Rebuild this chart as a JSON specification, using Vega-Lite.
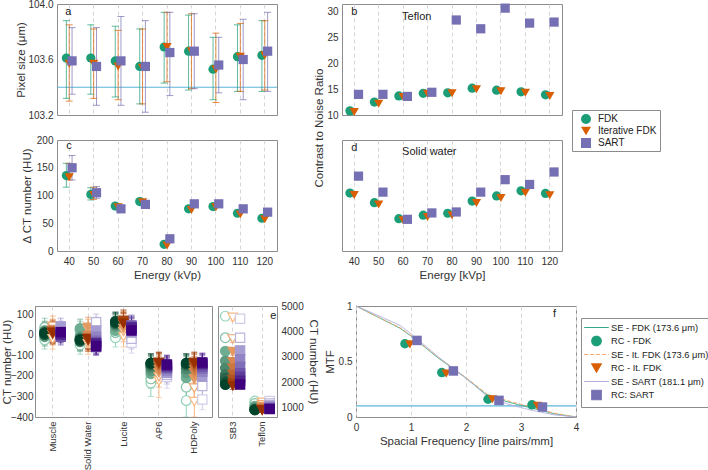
{
"$schema":"https://vega.github.io/schema/vega-lite/v6.json",
"background":"white",
"padding":{"left":0,"top":-2,"right":0,"bottom":0},
"autosize":{"type":"pad"},
"config":{
 "font":"Liberation Sans",
 "view":{"stroke":"#8c8c8c","strokeWidth":1},
 "axis":{"domain":false,"ticks":false,"grid":false,"labelFontSize":10,"labelColor":"#333333","titleFontSize":11.5,"titleFontWeight":"normal","titleColor":"#333333","labelPadding":4,"gridColor":"#d6d6d6","gridDash":[4,3],"labelOverlap":false},
 "text":{"font":"Liberation Sans","color":"#222222","fontSize":11},
 "legend":{"labelFont":"Liberation Sans","labelColor":"#222222"}
},
"datasets":{
 "pix":[
  {"energy":40,"method":"FDK","v":103.61,"lo":103.32,"hi":103.88},
  {"energy":40,"method":"Iterative FDK","v":103.57,"lo":103.30,"hi":103.85},
  {"energy":40,"method":"SART","v":103.59,"lo":103.35,"hi":103.83},
  {"energy":50,"method":"FDK","v":103.61,"lo":103.35,"hi":103.85},
  {"energy":50,"method":"Iterative FDK","v":103.57,"lo":103.32,"hi":103.82},
  {"energy":50,"method":"SART","v":103.55,"lo":103.27,"hi":103.83},
  {"energy":60,"method":"FDK","v":103.59,"lo":103.33,"hi":103.84},
  {"energy":60,"method":"Iterative FDK","v":103.55,"lo":103.31,"hi":103.81},
  {"energy":60,"method":"SART","v":103.59,"lo":103.27,"hi":103.91},
  {"energy":70,"method":"FDK","v":103.55,"lo":103.28,"hi":103.82},
  {"energy":70,"method":"Iterative FDK","v":103.54,"lo":103.28,"hi":103.82},
  {"energy":70,"method":"SART","v":103.55,"lo":103.22,"hi":103.88},
  {"energy":80,"method":"FDK","v":103.69,"lo":103.43,"hi":103.94},
  {"energy":80,"method":"Iterative FDK","v":103.69,"lo":103.44,"hi":103.94},
  {"energy":80,"method":"SART","v":103.65,"lo":103.34,"hi":103.94},
  {"energy":90,"method":"FDK","v":103.66,"lo":103.38,"hi":103.92},
  {"energy":90,"method":"Iterative FDK","v":103.66,"lo":103.39,"hi":103.93},
  {"energy":90,"method":"SART","v":103.66,"lo":103.39,"hi":103.93},
  {"energy":100,"method":"FDK","v":103.53,"lo":103.31,"hi":103.76},
  {"energy":100,"method":"Iterative FDK","v":103.53,"lo":103.29,"hi":103.79},
  {"energy":100,"method":"SART","v":103.56,"lo":103.36,"hi":103.76},
  {"energy":110,"method":"FDK","v":103.62,"lo":103.37,"hi":103.85},
  {"energy":110,"method":"Iterative FDK","v":103.62,"lo":103.37,"hi":103.86},
  {"energy":110,"method":"SART","v":103.60,"lo":103.31,"hi":103.89},
  {"energy":120,"method":"FDK","v":103.63,"lo":103.37,"hi":103.88},
  {"energy":120,"method":"Iterative FDK","v":103.63,"lo":103.38,"hi":103.88},
  {"energy":120,"method":"SART","v":103.66,"lo":103.37,"hi":103.94}
 ],
 "dct":[
  {"energy":40,"method":"FDK","v":136,"lo":115,"hi":158},
  {"energy":40,"method":"Iterative FDK","v":133,"lo":128,"hi":158},
  {"energy":40,"method":"SART","v":150,"lo":128,"hi":172},
  {"energy":50,"method":"FDK","v":102,"lo":92,"hi":114},
  {"energy":50,"method":"Iterative FDK","v":101,"lo":93,"hi":115},
  {"energy":50,"method":"SART","v":105,"lo":95,"hi":116},
  {"energy":60,"method":"FDK","v":81},
  {"energy":60,"method":"Iterative FDK","v":79},
  {"energy":60,"method":"SART","v":76},
  {"energy":70,"method":"FDK","v":89},
  {"energy":70,"method":"Iterative FDK","v":88},
  {"energy":70,"method":"SART","v":84},
  {"energy":80,"method":"FDK","v":12},
  {"energy":80,"method":"Iterative FDK","v":10},
  {"energy":80,"method":"SART","v":22},
  {"energy":90,"method":"FDK","v":76},
  {"energy":90,"method":"Iterative FDK","v":74},
  {"energy":90,"method":"SART","v":85},
  {"energy":100,"method":"FDK","v":80},
  {"energy":100,"method":"Iterative FDK","v":79},
  {"energy":100,"method":"SART","v":85},
  {"energy":110,"method":"FDK","v":68},
  {"energy":110,"method":"Iterative FDK","v":66},
  {"energy":110,"method":"SART","v":76},
  {"energy":120,"method":"FDK","v":59},
  {"energy":120,"method":"Iterative FDK","v":57},
  {"energy":120,"method":"SART","v":70}
 ],
 "cnrT":[
  {"energy":40,"method":"FDK","v":10.8},{"energy":40,"method":"Iterative FDK","v":10.6},{"energy":40,"method":"SART","v":14.0},
  {"energy":50,"method":"FDK","v":12.5},{"energy":50,"method":"Iterative FDK","v":12.2},{"energy":50,"method":"SART","v":14.0},
  {"energy":60,"method":"FDK","v":13.7},{"energy":60,"method":"Iterative FDK","v":13.5},{"energy":60,"method":"SART","v":13.6},
  {"energy":70,"method":"FDK","v":14.2},{"energy":70,"method":"Iterative FDK","v":14.1},{"energy":70,"method":"SART","v":14.4},
  {"energy":80,"method":"FDK","v":14.3},{"energy":80,"method":"Iterative FDK","v":14.2},{"energy":80,"method":"SART","v":28.4},
  {"energy":90,"method":"FDK","v":15.2},{"energy":90,"method":"Iterative FDK","v":15.0},{"energy":90,"method":"SART","v":26.7},
  {"energy":100,"method":"FDK","v":14.8},{"energy":100,"method":"Iterative FDK","v":14.6},{"energy":100,"method":"SART","v":30.7},
  {"energy":110,"method":"FDK","v":14.5},{"energy":110,"method":"Iterative FDK","v":14.3},{"energy":110,"method":"SART","v":27.8},
  {"energy":120,"method":"FDK","v":13.9},{"energy":120,"method":"Iterative FDK","v":13.7},{"energy":120,"method":"SART","v":28.0}
 ],
 "cnrW":[
  {"energy":40,"method":"FDK","v":1.81},{"energy":40,"method":"Iterative FDK","v":1.75},{"energy":40,"method":"SART","v":2.34},
  {"energy":50,"method":"FDK","v":1.51},{"energy":50,"method":"Iterative FDK","v":1.45},{"energy":50,"method":"SART","v":1.84},
  {"energy":60,"method":"FDK","v":1.01},{"energy":60,"method":"Iterative FDK","v":0.96},{"energy":60,"method":"SART","v":0.99},
  {"energy":70,"method":"FDK","v":1.12},{"energy":70,"method":"Iterative FDK","v":1.06},{"energy":70,"method":"SART","v":1.19},
  {"energy":80,"method":"FDK","v":1.18},{"energy":80,"method":"Iterative FDK","v":1.12},{"energy":80,"method":"SART","v":1.22},
  {"energy":90,"method":"FDK","v":1.56},{"energy":90,"method":"Iterative FDK","v":1.50},{"energy":90,"method":"SART","v":1.84},
  {"energy":100,"method":"FDK","v":1.72},{"energy":100,"method":"Iterative FDK","v":1.66},{"energy":100,"method":"SART","v":2.23},
  {"energy":110,"method":"FDK","v":1.88},{"energy":110,"method":"Iterative FDK","v":1.82},{"energy":110,"method":"SART","v":2.08},
  {"energy":120,"method":"FDK","v":1.80},{"energy":120,"method":"Iterative FDK","v":1.74},{"energy":120,"method":"SART","v":2.47}
 ],
 "mtfL":[
  {"entry":"SE - FDK (173.6 μm)","f":0,"mtf":1},{"entry":"SE - FDK (173.6 μm)","f":0.4,"mtf":0.9},{"entry":"SE - FDK (173.6 μm)","f":0.8,"mtf":0.8},{"entry":"SE - FDK (173.6 μm)","f":1.0,"mtf":0.73},{"entry":"SE - FDK (173.6 μm)","f":1.5,"mtf":0.53},{"entry":"SE - FDK (173.6 μm)","f":2.0,"mtf":0.35},{"entry":"SE - FDK (173.6 μm)","f":2.4,"mtf":0.19},{"entry":"SE - FDK (173.6 μm)","f":2.8,"mtf":0.13},{"entry":"SE - FDK (173.6 μm)","f":3.2,"mtf":0.08},{"entry":"SE - FDK (173.6 μm)","f":3.6,"mtf":0.03},{"entry":"SE - FDK (173.6 μm)","f":4.0,"mtf":0},
  {"entry":"SE - It. FDK (173.6 μm)","f":0,"mtf":1},{"entry":"SE - It. FDK (173.6 μm)","f":0.4,"mtf":0.9},{"entry":"SE - It. FDK (173.6 μm)","f":0.8,"mtf":0.805},{"entry":"SE - It. FDK (173.6 μm)","f":1.0,"mtf":0.735},{"entry":"SE - It. FDK (173.6 μm)","f":1.5,"mtf":0.535},{"entry":"SE - It. FDK (173.6 μm)","f":2.0,"mtf":0.355},{"entry":"SE - It. FDK (173.6 μm)","f":2.4,"mtf":0.2},{"entry":"SE - It. FDK (173.6 μm)","f":2.8,"mtf":0.14},{"entry":"SE - It. FDK (173.6 μm)","f":3.2,"mtf":0.09},{"entry":"SE - It. FDK (173.6 μm)","f":3.6,"mtf":0.035},{"entry":"SE - It. FDK (173.6 μm)","f":4.0,"mtf":0},
  {"entry":"SE - SART (181.1 μm)","f":0,"mtf":1},{"entry":"SE - SART (181.1 μm)","f":0.4,"mtf":0.915},{"entry":"SE - SART (181.1 μm)","f":0.8,"mtf":0.825},{"entry":"SE - SART (181.1 μm)","f":1.0,"mtf":0.75},{"entry":"SE - SART (181.1 μm)","f":1.5,"mtf":0.54},{"entry":"SE - SART (181.1 μm)","f":2.0,"mtf":0.35},{"entry":"SE - SART (181.1 μm)","f":2.4,"mtf":0.18},{"entry":"SE - SART (181.1 μm)","f":2.8,"mtf":0.11},{"entry":"SE - SART (181.1 μm)","f":3.2,"mtf":0.06},{"entry":"SE - SART (181.1 μm)","f":3.6,"mtf":0.02},{"entry":"SE - SART (181.1 μm)","f":4.0,"mtf":0}
 ],
 "mtfP":[
  {"entry":"RC - FDK","f":0.89,"mtf":0.66},{"entry":"RC - FDK","f":1.56,"mtf":0.40},{"entry":"RC - FDK","f":2.40,"mtf":0.16},{"entry":"RC - FDK","f":3.20,"mtf":0.11},
  {"entry":"RC - It. FDK","f":0.98,"mtf":0.655},{"entry":"RC - It. FDK","f":1.64,"mtf":0.39},{"entry":"RC - It. FDK","f":2.48,"mtf":0.16},{"entry":"RC - It. FDK","f":3.30,"mtf":0.10},
  {"entry":"RC: SART","f":1.11,"mtf":0.69},{"entry":"RC: SART","f":1.77,"mtf":0.415},{"entry":"RC: SART","f":2.60,"mtf":0.15},{"entry":"RC: SART","f":3.39,"mtf":0.09}
 ],
 "eL":[
  {"m":"Muscle","s":"FDK","e":40,"v":-25,"lo":-70,"hi":20},{"m":"Muscle","s":"FDK","e":50,"v":35,"lo":-10,"hi":80},{"m":"Muscle","s":"FDK","e":60,"v":20,"lo":-25,"hi":65},{"m":"Muscle","s":"FDK","e":70,"v":-10,"lo":-55,"hi":35},{"m":"Muscle","s":"FDK","e":80,"v":15,"lo":-30,"hi":60},{"m":"Muscle","s":"FDK","e":90,"v":5,"lo":-40,"hi":50},{"m":"Muscle","s":"FDK","e":100,"v":10,"lo":-35,"hi":55},{"m":"Muscle","s":"FDK","e":110,"v":0,"lo":-45,"hi":45},{"m":"Muscle","s":"FDK","e":120,"v":8,"lo":-37,"hi":53},
  {"m":"Muscle","s":"Iterative FDK","e":40,"v":-20,"lo":-70,"hi":30},{"m":"Muscle","s":"Iterative FDK","e":50,"v":40,"lo":-10,"hi":90},{"m":"Muscle","s":"Iterative FDK","e":60,"v":25,"lo":-25,"hi":75},{"m":"Muscle","s":"Iterative FDK","e":70,"v":0,"lo":-50,"hi":50},{"m":"Muscle","s":"Iterative FDK","e":80,"v":20,"lo":-30,"hi":70},{"m":"Muscle","s":"Iterative FDK","e":90,"v":10,"lo":-40,"hi":60},{"m":"Muscle","s":"Iterative FDK","e":100,"v":15,"lo":-35,"hi":65},{"m":"Muscle","s":"Iterative FDK","e":110,"v":5,"lo":-45,"hi":55},{"m":"Muscle","s":"Iterative FDK","e":120,"v":10,"lo":-40,"hi":60},
  {"m":"Muscle","s":"SART","e":40,"v":30,"lo":-10,"hi":70},{"m":"Muscle","s":"SART","e":50,"v":20,"lo":-20,"hi":60},{"m":"Muscle","s":"SART","e":60,"v":40,"lo":0,"hi":80},{"m":"Muscle","s":"SART","e":70,"v":15,"lo":-25,"hi":55},{"m":"Muscle","s":"SART","e":80,"v":10,"lo":-30,"hi":50},{"m":"Muscle","s":"SART","e":90,"v":-10,"lo":-50,"hi":30},{"m":"Muscle","s":"SART","e":100,"v":5,"lo":-35,"hi":45},{"m":"Muscle","s":"SART","e":110,"v":0,"lo":-40,"hi":40},{"m":"Muscle","s":"SART","e":120,"v":12,"lo":-28,"hi":52},
  {"m":"Solid Water","s":"FDK","e":40,"v":-50,"lo":-95,"hi":-5},{"m":"Solid Water","s":"FDK","e":50,"v":20,"lo":-25,"hi":65},{"m":"Solid Water","s":"FDK","e":60,"v":30,"lo":-15,"hi":75},{"m":"Solid Water","s":"FDK","e":70,"v":-10,"lo":-55,"hi":35},{"m":"Solid Water","s":"FDK","e":80,"v":-35,"lo":-80,"hi":10},{"m":"Solid Water","s":"FDK","e":90,"v":-20,"lo":-65,"hi":25},{"m":"Solid Water","s":"FDK","e":100,"v":-30,"lo":-75,"hi":15},{"m":"Solid Water","s":"FDK","e":110,"v":-25,"lo":-70,"hi":20},{"m":"Solid Water","s":"FDK","e":120,"v":-25,"lo":-70,"hi":20},
  {"m":"Solid Water","s":"Iterative FDK","e":40,"v":-45,"lo":-95,"hi":5},{"m":"Solid Water","s":"Iterative FDK","e":50,"v":25,"lo":-25,"hi":75},{"m":"Solid Water","s":"Iterative FDK","e":60,"v":35,"lo":-15,"hi":85},{"m":"Solid Water","s":"Iterative FDK","e":70,"v":-5,"lo":-55,"hi":45},{"m":"Solid Water","s":"Iterative FDK","e":80,"v":-30,"lo":-80,"hi":20},{"m":"Solid Water","s":"Iterative FDK","e":90,"v":-15,"lo":-65,"hi":35},{"m":"Solid Water","s":"Iterative FDK","e":100,"v":-30,"lo":-80,"hi":20},{"m":"Solid Water","s":"Iterative FDK","e":110,"v":-20,"lo":-70,"hi":30},{"m":"Solid Water","s":"Iterative FDK","e":120,"v":-20,"lo":-70,"hi":30},
  {"m":"Solid Water","s":"SART","e":40,"v":45,"lo":5,"hi":85},{"m":"Solid Water","s":"SART","e":50,"v":60,"lo":20,"hi":100},{"m":"Solid Water","s":"SART","e":60,"v":20,"lo":-20,"hi":60},{"m":"Solid Water","s":"SART","e":70,"v":-10,"lo":-50,"hi":30},{"m":"Solid Water","s":"SART","e":80,"v":-30,"lo":-70,"hi":10},{"m":"Solid Water","s":"SART","e":90,"v":-50,"lo":-90,"hi":-10},{"m":"Solid Water","s":"SART","e":100,"v":-60,"lo":-100,"hi":-20},{"m":"Solid Water","s":"SART","e":110,"v":-40,"lo":-80,"hi":0},{"m":"Solid Water","s":"SART","e":120,"v":-55,"lo":-95,"hi":-15},
  {"m":"Lucite","s":"FDK","e":40,"v":-15,"lo":-60,"hi":30},{"m":"Lucite","s":"FDK","e":50,"v":10,"lo":-35,"hi":55},{"m":"Lucite","s":"FDK","e":60,"v":20,"lo":-25,"hi":65},{"m":"Lucite","s":"FDK","e":70,"v":40,"lo":-5,"hi":85},{"m":"Lucite","s":"FDK","e":80,"v":60,"lo":15,"hi":105},{"m":"Lucite","s":"FDK","e":90,"v":50,"lo":5,"hi":95},{"m":"Lucite","s":"FDK","e":100,"v":55,"lo":10,"hi":100},{"m":"Lucite","s":"FDK","e":110,"v":65,"lo":20,"hi":110},{"m":"Lucite","s":"FDK","e":120,"v":60,"lo":15,"hi":105},
  {"m":"Lucite","s":"Iterative FDK","e":40,"v":-10,"lo":-60,"hi":40},{"m":"Lucite","s":"Iterative FDK","e":50,"v":15,"lo":-35,"hi":65},{"m":"Lucite","s":"Iterative FDK","e":60,"v":30,"lo":-20,"hi":80},{"m":"Lucite","s":"Iterative FDK","e":70,"v":50,"lo":0,"hi":100},{"m":"Lucite","s":"Iterative FDK","e":80,"v":65,"lo":15,"hi":115},{"m":"Lucite","s":"Iterative FDK","e":90,"v":55,"lo":5,"hi":105},{"m":"Lucite","s":"Iterative FDK","e":100,"v":60,"lo":10,"hi":110},{"m":"Lucite","s":"Iterative FDK","e":110,"v":70,"lo":20,"hi":120},{"m":"Lucite","s":"Iterative FDK","e":120,"v":55,"lo":5,"hi":105},
  {"m":"Lucite","s":"SART","e":40,"v":-40,"lo":-90,"hi":10},{"m":"Lucite","s":"SART","e":50,"v":-20,"lo":-70,"hi":30},{"m":"Lucite","s":"SART","e":60,"v":10,"lo":-40,"hi":60},{"m":"Lucite","s":"SART","e":70,"v":30,"lo":-20,"hi":80},{"m":"Lucite","s":"SART","e":80,"v":45,"lo":-5,"hi":95},{"m":"Lucite","s":"SART","e":90,"v":40,"lo":-10,"hi":90},{"m":"Lucite","s":"SART","e":100,"v":30,"lo":-20,"hi":80},{"m":"Lucite","s":"SART","e":110,"v":35,"lo":-15,"hi":85},{"m":"Lucite","s":"SART","e":120,"v":20,"lo":-30,"hi":70},
  {"m":"AP6","s":"FDK","e":40,"v":-235,"lo":-300,"hi":-170},{"m":"AP6","s":"FDK","e":50,"v":-215,"lo":-260,"hi":-170},{"m":"AP6","s":"FDK","e":60,"v":-190,"lo":-235,"hi":-145},{"m":"AP6","s":"FDK","e":70,"v":-175,"lo":-220,"hi":-130},{"m":"AP6","s":"FDK","e":80,"v":-160,"lo":-205,"hi":-115},{"m":"AP6","s":"FDK","e":90,"v":-150,"lo":-195,"hi":-105},{"m":"AP6","s":"FDK","e":100,"v":-145,"lo":-190,"hi":-100},{"m":"AP6","s":"FDK","e":110,"v":-140,"lo":-185,"hi":-95},{"m":"AP6","s":"FDK","e":120,"v":-138,"lo":-183,"hi":-93},
  {"m":"AP6","s":"Iterative FDK","e":40,"v":-225,"lo":-305,"hi":-145},{"m":"AP6","s":"Iterative FDK","e":50,"v":-205,"lo":-255,"hi":-155},{"m":"AP6","s":"Iterative FDK","e":60,"v":-185,"lo":-235,"hi":-135},{"m":"AP6","s":"Iterative FDK","e":70,"v":-170,"lo":-220,"hi":-120},{"m":"AP6","s":"Iterative FDK","e":80,"v":-155,"lo":-205,"hi":-105},{"m":"AP6","s":"Iterative FDK","e":90,"v":-148,"lo":-198,"hi":-98},{"m":"AP6","s":"Iterative FDK","e":100,"v":-142,"lo":-192,"hi":-92},{"m":"AP6","s":"Iterative FDK","e":110,"v":-138,"lo":-188,"hi":-88},{"m":"AP6","s":"Iterative FDK","e":120,"v":-135,"lo":-185,"hi":-85},
  {"m":"AP6","s":"SART","e":40,"v":-205,"lo":-260,"hi":-150},{"m":"AP6","s":"SART","e":50,"v":-195,"lo":-240,"hi":-150},{"m":"AP6","s":"SART","e":60,"v":-185,"lo":-230,"hi":-140},{"m":"AP6","s":"SART","e":70,"v":-175,"lo":-220,"hi":-130},{"m":"AP6","s":"SART","e":80,"v":-165,"lo":-210,"hi":-120},{"m":"AP6","s":"SART","e":90,"v":-160,"lo":-205,"hi":-115},{"m":"AP6","s":"SART","e":100,"v":-155,"lo":-200,"hi":-110},{"m":"AP6","s":"SART","e":110,"v":-150,"lo":-195,"hi":-105},{"m":"AP6","s":"SART","e":120,"v":-145,"lo":-190,"hi":-100},
  {"m":"HDPoly","s":"FDK","e":40,"v":-320,"lo":-400,"hi":-240},{"m":"HDPoly","s":"FDK","e":50,"v":-255,"lo":-310,"hi":-200},{"m":"HDPoly","s":"FDK","e":60,"v":-210,"lo":-255,"hi":-165},{"m":"HDPoly","s":"FDK","e":70,"v":-185,"lo":-230,"hi":-140},{"m":"HDPoly","s":"FDK","e":80,"v":-165,"lo":-210,"hi":-120},{"m":"HDPoly","s":"FDK","e":90,"v":-150,"lo":-195,"hi":-105},{"m":"HDPoly","s":"FDK","e":100,"v":-145,"lo":-190,"hi":-100},{"m":"HDPoly","s":"FDK","e":110,"v":-140,"lo":-185,"hi":-95},{"m":"HDPoly","s":"FDK","e":120,"v":-138,"lo":-183,"hi":-93},
  {"m":"HDPoly","s":"Iterative FDK","e":40,"v":-325,"lo":-400,"hi":-250},{"m":"HDPoly","s":"Iterative FDK","e":50,"v":-260,"lo":-315,"hi":-205},{"m":"HDPoly","s":"Iterative FDK","e":60,"v":-215,"lo":-265,"hi":-165},{"m":"HDPoly","s":"Iterative FDK","e":70,"v":-185,"lo":-235,"hi":-135},{"m":"HDPoly","s":"Iterative FDK","e":80,"v":-170,"lo":-220,"hi":-120},{"m":"HDPoly","s":"Iterative FDK","e":90,"v":-155,"lo":-205,"hi":-105},{"m":"HDPoly","s":"Iterative FDK","e":100,"v":-145,"lo":-195,"hi":-95},{"m":"HDPoly","s":"Iterative FDK","e":110,"v":-140,"lo":-190,"hi":-90},{"m":"HDPoly","s":"Iterative FDK","e":120,"v":-135,"lo":-185,"hi":-85},
  {"m":"HDPoly","s":"SART","e":40,"v":-315,"lo":-365,"hi":-265},{"m":"HDPoly","s":"SART","e":50,"v":-250,"lo":-300,"hi":-200},{"m":"HDPoly","s":"SART","e":60,"v":-205,"lo":-250,"hi":-160},{"m":"HDPoly","s":"SART","e":70,"v":-180,"lo":-225,"hi":-135},{"m":"HDPoly","s":"SART","e":80,"v":-165,"lo":-210,"hi":-120},{"m":"HDPoly","s":"SART","e":90,"v":-155,"lo":-200,"hi":-110},{"m":"HDPoly","s":"SART","e":100,"v":-145,"lo":-190,"hi":-100},{"m":"HDPoly","s":"SART","e":110,"v":-140,"lo":-185,"hi":-95},{"m":"HDPoly","s":"SART","e":120,"v":-135,"lo":-180,"hi":-90}
 ],
 "eR":[
  {"m":"SB3","s":"FDK","e":40,"v":4600,"lo":4470,"hi":4730},{"m":"SB3","s":"FDK","e":50,"v":3750,"lo":3620,"hi":3880},{"m":"SB3","s":"FDK","e":60,"v":3220,"lo":3090,"hi":3350},{"m":"SB3","s":"FDK","e":70,"v":2830,"lo":2700,"hi":2960},{"m":"SB3","s":"FDK","e":80,"v":2550,"lo":2420,"hi":2680},{"m":"SB3","s":"FDK","e":90,"v":2300,"lo":2170,"hi":2430},{"m":"SB3","s":"FDK","e":100,"v":2150,"lo":2020,"hi":2280},{"m":"SB3","s":"FDK","e":110,"v":2000,"lo":1870,"hi":2130},{"m":"SB3","s":"FDK","e":120,"v":1900,"lo":1770,"hi":2030},
  {"m":"SB3","s":"Iterative FDK","e":40,"v":4550,"lo":4410,"hi":4690},{"m":"SB3","s":"Iterative FDK","e":50,"v":3700,"lo":3560,"hi":3840},{"m":"SB3","s":"Iterative FDK","e":60,"v":3200,"lo":3060,"hi":3340},{"m":"SB3","s":"Iterative FDK","e":70,"v":2800,"lo":2660,"hi":2940},{"m":"SB3","s":"Iterative FDK","e":80,"v":2550,"lo":2410,"hi":2690},{"m":"SB3","s":"Iterative FDK","e":90,"v":2300,"lo":2160,"hi":2440},{"m":"SB3","s":"Iterative FDK","e":100,"v":2100,"lo":1960,"hi":2240},{"m":"SB3","s":"Iterative FDK","e":110,"v":1950,"lo":1810,"hi":2090},{"m":"SB3","s":"Iterative FDK","e":120,"v":1850,"lo":1710,"hi":1990},
  {"m":"SB3","s":"SART","e":40,"v":4500,"lo":4390,"hi":4610},{"m":"SB3","s":"SART","e":50,"v":3750,"lo":3640,"hi":3860},{"m":"SB3","s":"SART","e":60,"v":3250,"lo":3140,"hi":3360},{"m":"SB3","s":"SART","e":70,"v":2900,"lo":2790,"hi":3010},{"m":"SB3","s":"SART","e":80,"v":2600,"lo":2490,"hi":2710},{"m":"SB3","s":"SART","e":90,"v":2350,"lo":2240,"hi":2460},{"m":"SB3","s":"SART","e":100,"v":2200,"lo":2090,"hi":2310},{"m":"SB3","s":"SART","e":110,"v":2050,"lo":1940,"hi":2160},{"m":"SB3","s":"SART","e":120,"v":1900,"lo":1790,"hi":2010},
  {"m":"Teflon","s":"FDK","e":40,"v":1250,"lo":1180,"hi":1320},{"m":"Teflon","s":"FDK","e":50,"v":1150,"lo":1080,"hi":1220},{"m":"Teflon","s":"FDK","e":60,"v":1050,"lo":980,"hi":1120},{"m":"Teflon","s":"FDK","e":70,"v":1000,"lo":930,"hi":1070},{"m":"Teflon","s":"FDK","e":80,"v":950,"lo":880,"hi":1020},{"m":"Teflon","s":"FDK","e":90,"v":930,"lo":860,"hi":1000},{"m":"Teflon","s":"FDK","e":100,"v":920,"lo":850,"hi":990},{"m":"Teflon","s":"FDK","e":110,"v":910,"lo":840,"hi":980},{"m":"Teflon","s":"FDK","e":120,"v":900,"lo":830,"hi":970},
  {"m":"Teflon","s":"Iterative FDK","e":40,"v":1200,"lo":1120,"hi":1280},{"m":"Teflon","s":"Iterative FDK","e":50,"v":1100,"lo":1020,"hi":1180},{"m":"Teflon","s":"Iterative FDK","e":60,"v":1030,"lo":950,"hi":1110},{"m":"Teflon","s":"Iterative FDK","e":70,"v":980,"lo":900,"hi":1060},{"m":"Teflon","s":"Iterative FDK","e":80,"v":940,"lo":860,"hi":1020},{"m":"Teflon","s":"Iterative FDK","e":90,"v":920,"lo":840,"hi":1000},{"m":"Teflon","s":"Iterative FDK","e":100,"v":910,"lo":830,"hi":990},{"m":"Teflon","s":"Iterative FDK","e":110,"v":900,"lo":820,"hi":980},{"m":"Teflon","s":"Iterative FDK","e":120,"v":890,"lo":810,"hi":970},
  {"m":"Teflon","s":"SART","e":40,"v":1250,"lo":1190,"hi":1310},{"m":"Teflon","s":"SART","e":50,"v":1150,"lo":1090,"hi":1210},{"m":"Teflon","s":"SART","e":60,"v":1080,"lo":1020,"hi":1140},{"m":"Teflon","s":"SART","e":70,"v":1020,"lo":960,"hi":1080},{"m":"Teflon","s":"SART","e":80,"v":980,"lo":920,"hi":1040},{"m":"Teflon","s":"SART","e":90,"v":960,"lo":900,"hi":1020},{"m":"Teflon","s":"SART","e":100,"v":950,"lo":890,"hi":1010},{"m":"Teflon","s":"SART","e":110,"v":940,"lo":880,"hi":1000},{"m":"Teflon","s":"SART","e":120,"v":930,"lo":870,"hi":990}
 ]
},
"spacing":19,
"resolve":{"scale":{"color":"independent","shape":"independent","fill":"independent","stroke":"independent","size":"independent","strokeDash":"independent","x":"independent","y":"independent","xOffset":"independent"}},
"vconcat":[
 {"hconcat":[
   {"width":22,"height":111,"data":{"values":[]},"mark":"point","view":{"stroke":null}},
   {"concat":[
     {"width":220,"height":111,"layer":[
       {"data":{"values":[{}]},"mark":{"type":"rule","color":"#5ab4d8","strokeWidth":1.2},"encoding":{"y":{"datum":103.4,"type":"quantitative","scale":{"domain":[103.2,104.0],"nice":false,"zero":false},"axis":{"values":[103.2,103.6,104.0],"tickCount":20,"format":".1f","titlePadding":1,"labelOverlap":false},"title":"Pixel size (μm)"}}},
       {"data":{"name":"pix"},
        "encoding":{
          "x":{"field":"energy","type":"ordinal","scale":{"type":"band","paddingInner":0.65,"paddingOuter":0.325},"axis":{"labels":false,"title":null,"grid":true,"bandPosition":0.5}},
          "xOffset":{"field":"method","type":"nominal","scale":{"domain":["FDK","Iterative FDK","SART"],"paddingInner":0,"paddingOuter":0}},
          "color":{"field":"method","type":"nominal","scale":{"domain":["FDK","Iterative FDK","SART"],"range":["#1b9e77","#d95f02","#7570b3"]},"legend":null}},
        "layer":[
          {"mark":{"type":"rule","strokeWidth":1,"opacity":0.7},"encoding":{"y":{"field":"lo","type":"quantitative","scale":{"domain":[103.2,104.0],"nice":false,"zero":false},"title":"Pixel size (μm)"},"y2":{"field":"hi"}}},
          {"mark":{"type":"tick","size":7,"thickness":1,"opacity":0.7},"encoding":{"y":{"field":"lo","type":"quantitative","scale":{"domain":[103.2,104.0],"nice":false,"zero":false},"title":"Pixel size (μm)"}}},
          {"mark":{"type":"tick","size":7,"thickness":1,"opacity":0.7},"encoding":{"y":{"field":"hi","type":"quantitative","scale":{"domain":[103.2,104.0],"nice":false,"zero":false},"title":"Pixel size (μm)"}}},
          {"mark":{"type":"point","filled":true,"size":85,"opacity":1},"encoding":{"y":{"field":"v","type":"quantitative","scale":{"domain":[103.2,104.0],"nice":false,"zero":false},"title":"Pixel size (μm)"},"shape":{"field":"method","type":"nominal","scale":{"domain":["FDK","Iterative FDK","SART"],"range":["circle","triangle-down","square"]},"legend":null}}}
        ]},
       {"data":{"values":[{}]},"mark":{"type":"text","align":"left","baseline":"middle","dx":-4},"encoding":{"x":{"datum":40,"type":"ordinal"},"y":{"datum":103.94,"type":"quantitative"},"text":{"value":"a"}}}
     ]},
     {"width":220,"height":111,"layer":[
       {"data":{"name":"cnrT"},"mark":{"type":"point","filled":true,"size":85,"opacity":1},
        "encoding":{
          "x":{"field":"energy","type":"ordinal","scale":{"type":"band","paddingInner":0.65,"paddingOuter":0.325},"axis":{"labels":false,"title":null,"grid":true,"bandPosition":0.5}},
          "xOffset":{"field":"method","type":"nominal","scale":{"domain":["FDK","Iterative FDK","SART"],"paddingInner":0,"paddingOuter":0}},
          "y":{"field":"v","type":"quantitative","scale":{"domain":[10,31.5],"nice":false,"zero":false},"axis":{"values":[10,15,20,25,30],"tickCount":20,"labelOverlap":false},"title":null},
          "color":{"field":"method","type":"nominal","scale":{"domain":["FDK","Iterative FDK","SART"],"range":["#1b9e77","#d95f02","#7570b3"]},"legend":{"orient":"none","legendX":230,"legendY":106,"title":null,"strokeColor":"#8c8c8c","fillColor":"#ffffff","padding":3,"symbolOffset":5,"labelFontSize":10,"rowPadding":1,"symbolSize":100,"labelOffset":6}},
          "shape":{"field":"method","type":"nominal","scale":{"domain":["FDK","Iterative FDK","SART"],"range":["circle","triangle-down","square"]},"legend":{"orient":"none","legendX":230,"legendY":106,"title":null,"strokeColor":"#8c8c8c","fillColor":"#ffffff","padding":3,"symbolOffset":5,"labelFontSize":10,"rowPadding":1,"symbolSize":100,"labelOffset":6}}}},
       {"data":{"values":[{}]},"mark":{"type":"text","align":"left","baseline":"middle","dx":-3},"encoding":{"x":{"datum":40,"type":"ordinal"},"y":{"datum":29.95,"type":"quantitative"},"text":{"value":"b"}}},
       {"data":{"values":[{}]},"mark":{"type":"text","align":"left","baseline":"middle","dx":-1},"encoding":{"x":{"datum":60,"type":"ordinal"},"y":{"datum":29,"type":"quantitative"},"text":{"value":"Teflon"}}}
     ]},
     {"width":220,"height":111,"layer":[
       {"data":{"name":"dct"},
        "encoding":{
          "x":{"field":"energy","type":"ordinal","scale":{"type":"band","paddingInner":0.65,"paddingOuter":0.325},"axis":{"labelAngle":0,"title":"Energy (kVp)","grid":true,"bandPosition":0.5,"labelPadding":5,"titlePadding":3}},
          "xOffset":{"field":"method","type":"nominal","scale":{"domain":["FDK","Iterative FDK","SART"],"paddingInner":0,"paddingOuter":0}},
          "color":{"field":"method","type":"nominal","scale":{"domain":["FDK","Iterative FDK","SART"],"range":["#1b9e77","#d95f02","#7570b3"]},"legend":null}},
        "layer":[
          {"mark":{"type":"rule","strokeWidth":1,"opacity":0.7},"encoding":{"y":{"field":"lo","type":"quantitative","scale":{"domain":[0,200],"nice":false},"axis":{"values":[0,50,100,150,200],"tickCount":20,"titlePadding":4,"labelOverlap":false},"title":"Δ CT number (HU)"},"y2":{"field":"hi"}}},
          {"mark":{"type":"tick","size":7,"thickness":1,"opacity":0.7},"encoding":{"y":{"field":"lo","type":"quantitative","scale":{"domain":[0,200],"nice":false},"title":"Δ CT number (HU)"}}},
          {"mark":{"type":"tick","size":7,"thickness":1,"opacity":0.7},"encoding":{"y":{"field":"hi","type":"quantitative","scale":{"domain":[0,200],"nice":false},"title":"Δ CT number (HU)"}}},
          {"mark":{"type":"point","filled":true,"size":85,"opacity":1},"encoding":{"y":{"field":"v","type":"quantitative","scale":{"domain":[0,200],"nice":false},"title":"Δ CT number (HU)"},"shape":{"field":"method","type":"nominal","scale":{"domain":["FDK","Iterative FDK","SART"],"range":["circle","triangle-down","square"]},"legend":null}}}
        ]},
       {"data":{"values":[{}]},"mark":{"type":"text","align":"left","baseline":"middle","dx":-3},"encoding":{"x":{"datum":40,"type":"ordinal"},"y":{"datum":189,"type":"quantitative"},"text":{"value":"c"}}}
     ]},
     {"width":220,"height":111,"layer":[
       {"data":{"name":"cnrW"},"mark":{"type":"point","filled":true,"size":85,"opacity":1},
        "encoding":{
          "x":{"field":"energy","type":"ordinal","scale":{"type":"band","paddingInner":0.65,"paddingOuter":0.325},"axis":{"labelAngle":0,"title":"Energy [kVp]","grid":true,"bandPosition":0.5,"labelPadding":5,"titlePadding":3}},
          "xOffset":{"field":"method","type":"nominal","scale":{"domain":["FDK","Iterative FDK","SART"],"paddingInner":0,"paddingOuter":0}},
          "y":{"field":"v","type":"quantitative","scale":{"domain":[0,3.47],"nice":false,"zero":false},"axis":{"labels":false,"titleX":-18,"titleY":-12.5},"title":"Contrast to Noise Ratio"},
          "color":{"field":"method","type":"nominal","scale":{"domain":["FDK","Iterative FDK","SART"],"range":["#1b9e77","#d95f02","#7570b3"]},"legend":null},
          "shape":{"field":"method","type":"nominal","scale":{"domain":["FDK","Iterative FDK","SART"],"range":["circle","triangle-down","square"]},"legend":null}}},
       {"data":{"values":[{}]},"mark":{"type":"text","align":"left","baseline":"middle","dx":-3},"encoding":{"x":{"datum":40,"type":"ordinal"},"y":{"datum":3.22,"type":"quantitative"},"text":{"value":"d"}}},
       {"data":{"values":[{}]},"mark":{"type":"text","align":"left","baseline":"middle","dx":-1},"encoding":{"x":{"datum":60,"type":"ordinal"},"y":{"datum":3.08,"type":"quantitative"},"text":{"value":"Solid water"}}}
     ]}
   ],
   "columns":2,
   "spacing":{"column":65,"row":25},
   "bounds":"flush",
   "resolve":{"scale":{"color":"independent","shape":"independent","x":"independent","y":"independent","xOffset":"independent"}}}
 ],
 "spacing":0,
 "bounds":"flush",
 "resolve":{"scale":{"color":"independent","shape":"independent","x":"independent","y":"independent","xOffset":"independent"}}},
 {"hconcat":[
   {"hconcat":[
     {"width":177,"height":111,"data":{"name":"eL"},
      "resolve":{"scale":{"color":"independent","fill":"independent","stroke":"independent"}},
      "encoding":{
        "x":{"field":"m","type":"nominal","sort":["Muscle","Solid Water","Lucite","AP6","HDPoly"],"scale":{"type":"band","paddingInner":0.32,"paddingOuter":0.16},"axis":{"title":null,"grid":true,"bandPosition":0.5,"labelAngle":-90,"labelPadding":4,"labelFontSize":9.5}},
        "xOffset":{"field":"s","type":"nominal","scale":{"domain":["FDK","Iterative FDK","SART"],"paddingInner":0,"paddingOuter":0}}},
      "layer":[
        {"transform":[{"filter":"datum.s === 'FDK'"}],
         "encoding":{"color":{"field":"e","type":"quantitative","scale":{"domain":[40,120],"range":["#93d3b8","#00432b"]},"legend":null}},
         "layer":[
          {"mark":{"type":"rule","strokeWidth":1,"clip":true},"encoding":{"y":{"field":"lo","type":"quantitative","scale":{"domain":[-400,139],"nice":false,"zero":false},"axis":{"values":[-400,-300,-200,-100,0,100],"tickCount":20,"labelPadding":2,"titlePadding":-2,"labelOverlap":false},"title":"CT number (HU)"},"y2":{"field":"hi"}}},
          {"mark":{"type":"tick","size":6,"thickness":1,"clip":true},"encoding":{"y":{"field":"lo","type":"quantitative","scale":{"domain":[-400,139],"nice":false,"zero":false},"title":"CT number (HU)"}}},
          {"mark":{"type":"tick","size":6,"thickness":1,"clip":true},"encoding":{"y":{"field":"hi","type":"quantitative","scale":{"domain":[-400,139],"nice":false,"zero":false},"title":"CT number (HU)"}}},
          {"mark":{"type":"point","shape":"circle","filled":true,"size":95,"strokeWidth":1.2,"opacity":1,"clip":true},"encoding":{"y":{"field":"v","type":"quantitative","scale":{"domain":[-400,139],"nice":false,"zero":false},"title":"CT number (HU)"},
            "fill":{"condition":{"test":"datum.e <= 50","value":"#ffffff"},"field":"e","type":"quantitative","scale":{"domain":[40,120],"range":["#93d3b8","#00432b"]},"legend":null},
            "stroke":{"field":"e","type":"quantitative","scale":{"domain":[40,120],"range":["#93d3b8","#00432b"]},"legend":null}}}
         ]},
        {"transform":[{"filter":"datum.s === 'Iterative FDK'"}],
         "encoding":{"color":{"field":"e","type":"quantitative","scale":{"domain":[40,120],"range":["#fdbb84","#993000"]},"legend":null}},
         "layer":[
          {"mark":{"type":"rule","strokeWidth":1,"clip":true},"encoding":{"y":{"field":"lo","type":"quantitative","scale":{"domain":[-400,139],"nice":false,"zero":false},"title":"CT number (HU)"},"y2":{"field":"hi"}}},
          {"mark":{"type":"tick","size":6,"thickness":1,"clip":true},"encoding":{"y":{"field":"lo","type":"quantitative","scale":{"domain":[-400,139],"nice":false,"zero":false},"title":"CT number (HU)"}}},
          {"mark":{"type":"tick","size":6,"thickness":1,"clip":true},"encoding":{"y":{"field":"hi","type":"quantitative","scale":{"domain":[-400,139],"nice":false,"zero":false},"title":"CT number (HU)"}}},
          {"mark":{"type":"point","shape":"triangle-down","filled":true,"size":95,"strokeWidth":1.2,"opacity":1,"clip":true},"encoding":{"y":{"field":"v","type":"quantitative","scale":{"domain":[-400,139],"nice":false,"zero":false},"title":"CT number (HU)"},
            "fill":{"condition":{"test":"datum.e <= 50","value":"#ffffff"},"field":"e","type":"quantitative","scale":{"domain":[40,120],"range":["#fdbb84","#993000"]},"legend":null},
            "stroke":{"field":"e","type":"quantitative","scale":{"domain":[40,120],"range":["#fdbb84","#993000"]},"legend":null}}}
         ]},
        {"transform":[{"filter":"datum.s === 'SART'"}],
         "encoding":{"color":{"field":"e","type":"quantitative","scale":{"domain":[40,120],"range":["#cfcde8","#3f007d"]},"legend":null}},
         "layer":[
          {"mark":{"type":"rule","strokeWidth":1,"clip":true},"encoding":{"y":{"field":"lo","type":"quantitative","scale":{"domain":[-400,139],"nice":false,"zero":false},"title":"CT number (HU)"},"y2":{"field":"hi"}}},
          {"mark":{"type":"tick","size":6,"thickness":1,"clip":true},"encoding":{"y":{"field":"lo","type":"quantitative","scale":{"domain":[-400,139],"nice":false,"zero":false},"title":"CT number (HU)"}}},
          {"mark":{"type":"tick","size":6,"thickness":1,"clip":true},"encoding":{"y":{"field":"hi","type":"quantitative","scale":{"domain":[-400,139],"nice":false,"zero":false},"title":"CT number (HU)"}}},
          {"mark":{"type":"point","shape":"square","filled":true,"size":85,"strokeWidth":1.2,"opacity":1,"clip":true},"encoding":{"y":{"field":"v","type":"quantitative","scale":{"domain":[-400,139],"nice":false,"zero":false},"title":"CT number (HU)"},
            "fill":{"condition":{"test":"datum.e <= 50","value":"#ffffff"},"field":"e","type":"quantitative","scale":{"domain":[40,120],"range":["#cfcde8","#3f007d"]},"legend":null},
            "stroke":{"field":"e","type":"quantitative","scale":{"domain":[40,120],"range":["#cfcde8","#3f007d"]},"legend":null}}}
         ]}
      ]},
     {"width":59,"height":111,
      "resolve":{"scale":{"color":"independent","fill":"independent","stroke":"independent"}},
      "layer":[
       {"data":{"name":"eR"},
        "resolve":{"scale":{"color":"independent","fill":"independent","stroke":"independent"}},
        "encoding":{
          "x":{"field":"m","type":"nominal","sort":["SB3","Teflon"],"scale":{"type":"band","paddingInner":0.25,"paddingOuter":0.125},"axis":{"title":null,"grid":true,"bandPosition":0.5,"labelAngle":-90,"labelPadding":4,"labelFontSize":9.5}},
          "xOffset":{"field":"s","type":"nominal","scale":{"domain":["FDK","Iterative FDK","SART"],"paddingInner":0,"paddingOuter":0}}},
        "layer":[
         {"transform":[{"filter":"datum.s === 'FDK'"}],
          "encoding":{"color":{"field":"e","type":"quantitative","scale":{"domain":[40,120],"range":["#93d3b8","#00432b"]},"legend":null}},
          "layer":[
           {"mark":{"type":"rule","strokeWidth":1,"clip":true},"encoding":{"y":{"field":"lo","type":"quantitative","scale":{"domain":[620,5000],"nice":false,"zero":false},"axis":{"orient":"right","values":[1000,2000,3000,4000,5000],"tickCount":20,"format":"d","titlePadding":4,"labelOverlap":false},"title":"CT number (HU)"},"y2":{"field":"hi"}}},
           {"mark":{"type":"tick","size":6,"thickness":1,"clip":true},"encoding":{"y":{"field":"lo","type":"quantitative","scale":{"domain":[620,5000],"nice":false,"zero":false},"title":"CT number (HU)"}}},
           {"mark":{"type":"tick","size":6,"thickness":1,"clip":true},"encoding":{"y":{"field":"hi","type":"quantitative","scale":{"domain":[620,5000],"nice":false,"zero":false},"title":"CT number (HU)"}}},
           {"mark":{"type":"point","shape":"circle","filled":true,"size":95,"strokeWidth":1.2,"opacity":1,"clip":true},"encoding":{"y":{"field":"v","type":"quantitative","scale":{"domain":[620,5000],"nice":false,"zero":false},"title":"CT number (HU)"},
             "fill":{"condition":{"test":"datum.e <= 50","value":"#ffffff"},"field":"e","type":"quantitative","scale":{"domain":[40,120],"range":["#93d3b8","#00432b"]},"legend":null},
             "stroke":{"field":"e","type":"quantitative","scale":{"domain":[40,120],"range":["#93d3b8","#00432b"]},"legend":null}}}
          ]},
         {"transform":[{"filter":"datum.s === 'Iterative FDK'"}],
          "encoding":{"color":{"field":"e","type":"quantitative","scale":{"domain":[40,120],"range":["#fdbb84","#993000"]},"legend":null}},
          "layer":[
           {"mark":{"type":"rule","strokeWidth":1,"clip":true},"encoding":{"y":{"field":"lo","type":"quantitative","scale":{"domain":[620,5000],"nice":false,"zero":false},"title":"CT number (HU)"},"y2":{"field":"hi"}}},
           {"mark":{"type":"tick","size":6,"thickness":1,"clip":true},"encoding":{"y":{"field":"lo","type":"quantitative","scale":{"domain":[620,5000],"nice":false,"zero":false},"title":"CT number (HU)"}}},
           {"mark":{"type":"tick","size":6,"thickness":1,"clip":true},"encoding":{"y":{"field":"hi","type":"quantitative","scale":{"domain":[620,5000],"nice":false,"zero":false},"title":"CT number (HU)"}}},
           {"mark":{"type":"point","shape":"triangle-down","filled":true,"size":95,"strokeWidth":1.2,"opacity":1,"clip":true},"encoding":{"y":{"field":"v","type":"quantitative","scale":{"domain":[620,5000],"nice":false,"zero":false},"title":"CT number (HU)"},
             "fill":{"condition":{"test":"datum.e <= 50","value":"#ffffff"},"field":"e","type":"quantitative","scale":{"domain":[40,120],"range":["#fdbb84","#993000"]},"legend":null},
             "stroke":{"field":"e","type":"quantitative","scale":{"domain":[40,120],"range":["#fdbb84","#993000"]},"legend":null}}}
          ]},
         {"transform":[{"filter":"datum.s === 'SART'"}],
          "encoding":{"color":{"field":"e","type":"quantitative","scale":{"domain":[40,120],"range":["#cfcde8","#3f007d"]},"legend":null}},
          "layer":[
           {"mark":{"type":"rule","strokeWidth":1,"clip":true},"encoding":{"y":{"field":"lo","type":"quantitative","scale":{"domain":[620,5000],"nice":false,"zero":false},"title":"CT number (HU)"},"y2":{"field":"hi"}}},
           {"mark":{"type":"tick","size":6,"thickness":1,"clip":true},"encoding":{"y":{"field":"lo","type":"quantitative","scale":{"domain":[620,5000],"nice":false,"zero":false},"title":"CT number (HU)"}}},
           {"mark":{"type":"tick","size":6,"thickness":1,"clip":true},"encoding":{"y":{"field":"hi","type":"quantitative","scale":{"domain":[620,5000],"nice":false,"zero":false},"title":"CT number (HU)"}}},
           {"mark":{"type":"point","shape":"square","filled":true,"size":85,"strokeWidth":1.2,"opacity":1,"clip":true},"encoding":{"y":{"field":"v","type":"quantitative","scale":{"domain":[620,5000],"nice":false,"zero":false},"title":"CT number (HU)"},
             "fill":{"condition":{"test":"datum.e <= 50","value":"#ffffff"},"field":"e","type":"quantitative","scale":{"domain":[40,120],"range":["#cfcde8","#3f007d"]},"legend":null},
             "stroke":{"field":"e","type":"quantitative","scale":{"domain":[40,120],"range":["#cfcde8","#3f007d"]},"legend":null}}}
          ]}
        ]},
       {"data":{"values":[{}]},"mark":{"type":"text","align":"left","baseline":"middle","dx":8},"encoding":{"x":{"datum":"Teflon","type":"nominal"},"y":{"datum":4620,"type":"quantitative"},"text":{"value":"e"}}}
      ]}
   ],
   "spacing":6,
   "bounds":"flush",
   "resolve":{"scale":{"color":"independent","fill":"independent","stroke":"independent","x":"independent","y":"independent","xOffset":"independent"}}},
   {"width":220,"height":111,"layer":[
     {"data":{"values":[{}]},"mark":{"type":"rule","color":"#5ab4d8","strokeWidth":1.2},"encoding":{"y":{"datum":0.1,"type":"quantitative","scale":{"domain":[0,1],"nice":false},"axis":{"values":[0,0.5,1],"tickCount":20,"format":"~g","titlePadding":3,"labelOverlap":false},"title":"MTF"}}},
     {"data":{"name":"mtfL"},"mark":{"type":"line","strokeWidth":1},
      "encoding":{
        "x":{"field":"f","type":"quantitative","scale":{"domain":[0,4],"nice":false},"axis":{"values":[0,1,2,3,4],"tickCount":20,"format":"d","grid":true,"labelFlush":false,"labelPadding":5,"titlePadding":3,"labelOverlap":false},"title":"Spacial Frequency [line pairs/mm]"},
        "y":{"field":"mtf","type":"quantitative","scale":{"domain":[0,1],"nice":false},"title":"MTF"},
        "color":{"field":"entry","type":"nominal","scale":{"domain":["SE - FDK (173.6 μm)","RC - FDK","SE - It. FDK (173.6 μm)","RC - It. FDK","SE - SART (181.1 μm)","RC: SART"],"range":["#2eaa8a","#1b9e77","#f6a86e","#d95f02","#b2afdc","#7570b3"]},"legend":{"orient":"none","legendX":225,"legendY":12,"title":null,"strokeColor":"#8c8c8c","fillColor":"#ffffff","padding":4,"symbolOffset":6,"labelFontSize":9.3,"rowPadding":0.5,"symbolSize":90,"symbolStrokeWidth":1.2,"labelOffset":9}},
        "strokeDash":{"field":"entry","type":"nominal","scale":{"domain":["SE - FDK (173.6 μm)","RC - FDK","SE - It. FDK (173.6 μm)","RC - It. FDK","SE - SART (181.1 μm)","RC: SART"],"range":[[1,0],[1,0],[4,2],[1,0],[1,0],[1,0]]},"legend":{"orient":"none","legendX":225,"legendY":12,"title":null,"strokeColor":"#8c8c8c","fillColor":"#ffffff","padding":4,"symbolOffset":6,"labelFontSize":9.3,"rowPadding":0.5,"symbolSize":90,"symbolStrokeWidth":1.2,"labelOffset":9}}}},
     {"data":{"name":"mtfP"},"mark":{"type":"point","filled":true,"opacity":1,"size":90},
      "encoding":{
        "x":{"field":"f","type":"quantitative","scale":{"domain":[0,4],"nice":false},"title":"Spacial Frequency [line pairs/mm]"},
        "y":{"field":"mtf","type":"quantitative","scale":{"domain":[0,1],"nice":false},"title":"MTF"},
        "color":{"field":"entry","type":"nominal","scale":{"domain":["SE - FDK (173.6 μm)","RC - FDK","SE - It. FDK (173.6 μm)","RC - It. FDK","SE - SART (181.1 μm)","RC: SART"],"range":["#2eaa8a","#1b9e77","#f6a86e","#d95f02","#b2afdc","#7570b3"]},"legend":{"orient":"none","legendX":225,"legendY":12,"title":null,"strokeColor":"#8c8c8c","fillColor":"#ffffff","padding":4,"symbolOffset":6,"labelFontSize":9.3,"rowPadding":0.5,"symbolSize":90,"symbolStrokeWidth":1.2,"labelOffset":9}},
        "shape":{"field":"entry","type":"nominal","scale":{"domain":["SE - FDK (173.6 μm)","RC - FDK","SE - It. FDK (173.6 μm)","RC - It. FDK","SE - SART (181.1 μm)","RC: SART"],"range":["M-2.6,0H2.6","circle","M-2.6,0H2.6","triangle-down","M-2.6,0H2.6","square"]},"legend":{"orient":"none","legendX":225,"legendY":12,"title":null,"strokeColor":"#8c8c8c","fillColor":"#ffffff","padding":4,"symbolOffset":6,"labelFontSize":9.3,"rowPadding":0.5,"symbolSize":90,"symbolStrokeWidth":1.2,"labelOffset":9}}}},
     {"data":{"values":[{}]},"mark":{"type":"text","align":"left","baseline":"middle"},"encoding":{"x":{"datum":3.58,"type":"quantitative"},"y":{"datum":0.93,"type":"quantitative"},"text":{"value":"f"}}}
   ]}
 ],
 "spacing":4,
 "resolve":{"scale":{"color":"independent","shape":"independent","fill":"independent","stroke":"independent","size":"independent","strokeDash":"independent","x":"independent","y":"independent","xOffset":"independent"}}}
]
}
